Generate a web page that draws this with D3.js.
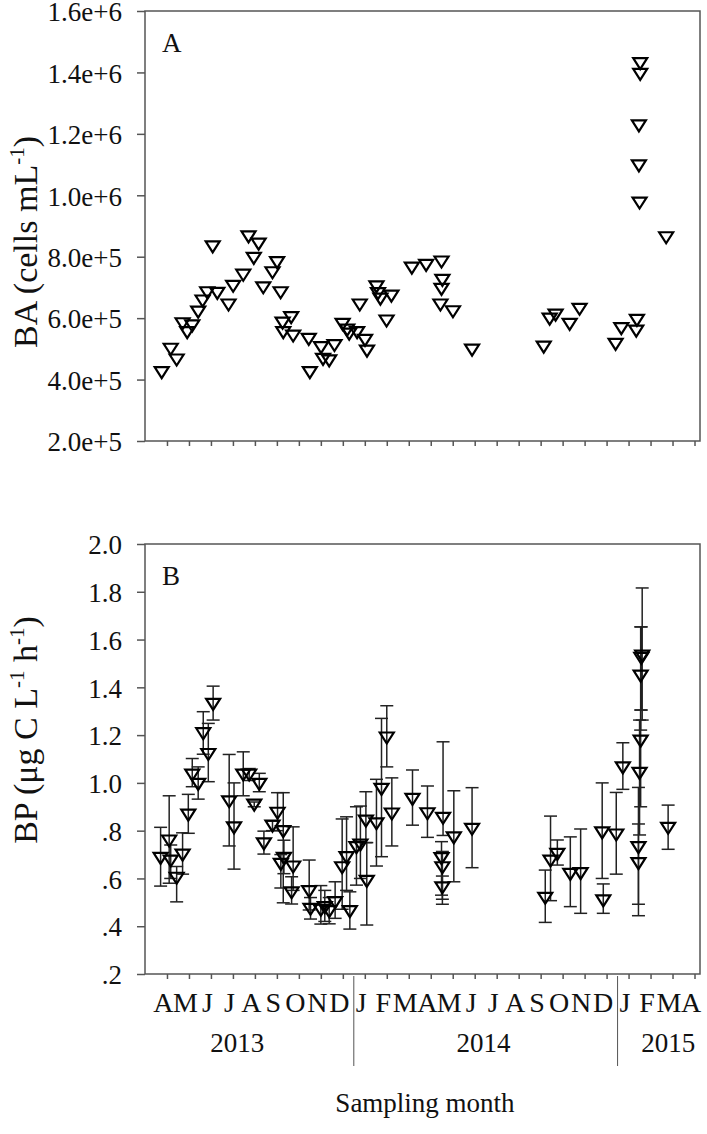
<!DOCTYPE html>
<html>
<head>
<meta charset="utf-8">
<script src="https://cdn.jsdelivr.net/npm/d3@7"></script>
<style>
    body { margin: 0; background: #fff; }
    svg text { font-family: "Liberation Serif", "Times New Roman", serif; fill: #111; }
</style>
</head>
<body>
<svg id="chart" width="707" height="1134"></svg>
<script>
// month labels under each tick, Apr 2013 .. Apr 2015
var monthLabels = ['A','M','J','J','A','S','O','N','D',
    'J','F','M','A','M','J','J','A','S','O','N','D',
    'J','F','M','A'];
var years = ['2013', '2014', '2015'];

// sampling time in months after 1 Apr 2013
var baMonth = [-0.24, 0.17, 0.44, 0.71, 0.92, 1.15, 1.42, 1.62, 1.83, 2.08,
    2.29, 2.80, 3.01, 3.47, 3.71, 3.95, 4.17, 4.38, 4.80, 5.01,
    5.17, 5.26, 5.29, 5.65, 5.74, 6.45, 6.50, 7.01, 7.10, 7.38,
    7.62, 7.99, 8.20, 8.29, 8.65, 8.77, 9.01, 9.10, 9.53, 9.60,
    9.71, 9.99, 10.21, 11.14, 11.79, 12.49, 12.53, 12.49, 12.44, 13.01,
    13.88, 17.14, 17.41, 17.68, 18.32, 18.77, 20.41, 20.67, 21.38, 21.35,
    21.50, 21.47, 21.47, 21.53, 21.53, 22.71];
// bacterial abundance, cells per mL
var baValue = [426000, 502000, 467000, 585000, 556000, 578000, 623000, 659000, 686000, 835000,
    684000, 646000, 707000, 743000, 868000, 798000, 844000, 702000, 751000, 784000,
    686000, 587000, 556000, 605000, 545000, 534000, 426000, 507000, 469000, 464000,
    514000, 583000, 564000, 551000, 556000, 646000, 531000, 496000, 705000, 683000,
    665000, 594000, 675000, 766000, 775000, 786000, 726000, 697000, 646000, 624000,
    499000, 509000, 600000, 613000, 583000, 632000, 518000, 569000, 596000, 561000,
    978000, 1099000, 1229000, 1397000, 1432000, 865000];

var bpMonth = [-0.29, 0.10, 0.17, 0.44, 0.71, 0.97, 1.15, 1.42, 1.65, 1.88,
    2.10, 2.83, 3.05, 3.47, 3.74, 3.97, 4.20, 4.41, 4.80, 5.03,
    5.29, 5.32, 5.18, 5.74, 5.67, 6.47, 6.53, 7.00, 7.18, 7.38,
    7.65, 7.97, 8.17, 8.32, 8.62, 8.80, 9.05, 9.09, 9.53, 9.76,
    10.00, 10.23, 11.17, 11.85, 12.56, 12.49, 12.53, 12.53, 13.05, 13.88,
    17.21, 17.45, 17.76, 18.35, 18.82, 19.80, 19.85, 20.44, 20.74, 21.62,
    21.58, 21.55, 21.55, 21.50, 21.45, 21.45, 22.80];
// bacterial production, ug C per L per h
var bpValue = [0.688, 0.761, 0.677, 0.605, 0.702, 0.869, 1.037, 0.998, 1.210, 1.123,
    1.333, 0.925, 0.816, 1.037, 1.037, 0.911, 0.998, 0.749, 0.823, 0.877,
    0.800, 0.688, 0.663, 0.652, 0.544, 0.549, 0.475, 0.471, 0.482, 0.465,
    0.503, 0.649, 0.691, 0.465, 0.733, 0.744, 0.844, 0.592, 0.833, 0.977,
    1.192, 0.874, 0.935, 0.875, 0.856, 0.687, 0.649, 0.565, 0.774, 0.810,
    0.521, 0.677, 0.705, 0.621, 0.624, 0.795, 0.510, 0.786, 1.067, 1.535,
    1.525, 1.451, 1.179, 1.044, 0.733, 0.666, 0.814];
var bpLow = [0.568, 0.580, 0.600, 0.502, 0.618, 0.789, 0.984, 0.932, 1.120, 1.005,
    1.263, 0.736, 0.639, 0.946, 1.010, 0.900, 0.963, 0.702, 0.800, 0.800,
    0.498, 0.620, 0.560, 0.550, 0.493, 0.468, 0.430, 0.409, 0.420, 0.410,
    0.433, 0.471, 0.550, 0.388, 0.572, 0.600, 0.750, 0.405, 0.652, 0.691,
    1.067, 0.736, 0.823, 0.772, 0.780, 0.530, 0.513, 0.492, 0.586, 0.645,
    0.416, 0.507, 0.656, 0.482, 0.454, 0.600, 0.454, 0.618, 0.973, 1.263,
    1.305, 1.221, 0.900, 0.782, 0.492, 0.444, 0.722];
var bpHigh = [0.814, 0.946, 0.740, 0.650, 0.791, 0.952, 1.102, 1.067, 1.298, 1.249,
    1.405, 1.119, 1.000, 1.130, 1.060, 0.920, 1.040, 0.798, 0.840, 0.959,
    0.959, 0.760, 0.700, 0.816, 0.607, 0.677, 0.520, 0.570, 0.550, 0.520,
    0.586, 0.849, 0.858, 0.544, 0.900, 0.903, 0.963, 0.750, 1.015, 1.270,
    1.323, 1.021, 1.054, 0.987, 1.172, 0.754, 0.713, 0.610, 0.967, 0.980,
    0.635, 0.861, 0.761, 0.774, 0.807, 1.000, 0.577, 0.960, 1.168, 1.816,
    1.653, 1.653, 1.305, 1.263, 0.981, 0.828, 0.907];

var baTicks = [2e5, 4e5, 6e5, 8e5, 1e6, 1.2e6, 1.4e6, 1.6e6];
var bpTicks = [0.2, 0.4, 0.6, 0.8, 1.0, 1.2, 1.4, 1.6, 1.8, 2.0];

d3.select(window).on('load', init);

function init() {
    var svg = d3.select('#chart');

    var left = 145, right = 700;
    var x = d3.scaleLinear()
        .domain([-1, 24.25])
        .range([left, right]);

    var yA = d3.scaleLinear().domain([2e5, 1.6e6]).range([441, 11]);
    var yB = d3.scaleLinear().domain([0.2, 2.0]).range([974, 544]);

    draw_panel(svg, x, yA, baTicks, d3.format('.1e'), 'A', false);
    draw_panel(svg, x, yB, bpTicks, function(d) {
        return d3.format('.1f')(d).replace(/^0/, '');
    }, 'B', true);

    // panel A points
    var ptsA = baMonth.map(function(m, i) { return {m: m, v: baValue[i]}; });
    svg.append('g')
        .selectAll('path')
        .data(ptsA)
        .enter()
        .append('path')
        .attr('d', triangle)
        .attr('transform', function(d) {
            return 'translate(' + x(d.m) + ',' + yA(d.v) + ')';
        })
        .attr('fill', 'none')
        .attr('stroke', '#000')
        .attr('stroke-width', 2.2);

    // panel B error bars + points
    var ptsB = bpMonth.map(function(m, i) {
        return {m: m, v: bpValue[i], lo: bpLow[i], hi: bpHigh[i]};
    });
    var bars = svg.append('g')
        .attr('stroke', '#222')
        .attr('stroke-width', 1.5)
        .selectAll('g')
        .data(ptsB)
        .enter()
        .append('g');
    bars.append('line')
        .attr('x1', function(d) { return x(d.m); })
        .attr('x2', function(d) { return x(d.m); })
        .attr('y1', function(d) { return yB(d.lo); })
        .attr('y2', function(d) { return yB(d.hi); });
    bars.append('line')
        .attr('x1', function(d) { return x(d.m) - 6.5; })
        .attr('x2', function(d) { return x(d.m) + 6.5; })
        .attr('y1', function(d) { return yB(d.hi); })
        .attr('y2', function(d) { return yB(d.hi); });
    bars.append('line')
        .attr('x1', function(d) { return x(d.m) - 6.5; })
        .attr('x2', function(d) { return x(d.m) + 6.5; })
        .attr('y1', function(d) { return yB(d.lo); })
        .attr('y2', function(d) { return yB(d.lo); });

    svg.append('g')
        .selectAll('path')
        .data(ptsB)
        .enter()
        .append('path')
        .attr('d', triangle)
        .attr('transform', function(d) {
            return 'translate(' + x(d.m) + ',' + yB(d.v) + ')';
        })
        .attr('fill', 'none')
        .attr('stroke', '#000')
        .attr('stroke-width', 2.2);

    // year labels and separators
    var sep = [8.5, 20.5];
    svg.append('g')
        .selectAll('line')
        .data(sep)
        .enter()
        .append('line')
        .attr('x1', function(d) { return x(d); })
        .attr('x2', function(d) { return x(d); })
        .attr('y1', 976)
        .attr('y2', 1066)
        .attr('stroke', '#555')
        .attr('stroke-width', 1);

    var yearPos = [3.2, 14.4, 22.8];
    svg.append('g')
        .selectAll('text')
        .data(years)
        .enter()
        .append('text')
        .attr('x', function(d, i) { return x(yearPos[i]); })
        .attr('y', 1052)
        .attr('text-anchor', 'middle')
        .style('font-size', '27px')
        .text(function(d) { return d; });

    svg.append('text')
        .attr('x', 425)
        .attr('y', 1112)
        .attr('text-anchor', 'middle')
        .style('font-size', '27px')
        .text('Sampling month');

    // y titles
    var tA = svg.append('text')
        .attr('transform', 'translate(37,242) rotate(-90)')
        .attr('text-anchor', 'middle')
        .style('font-size', '34px');
    tA.append('tspan').text('BA (cells mL');
    tA.append('tspan').attr('dy', -13).style('font-size', '21px').text('-1');
    tA.append('tspan').attr('dy', 13).text(')');

    var tB = svg.append('text')
        .attr('transform', 'translate(37,730) rotate(-90)')
        .attr('text-anchor', 'middle')
        .style('font-size', '34px');
    tB.append('tspan').text('BP (\u03bcg C L');
    tB.append('tspan').attr('dy', -13).style('font-size', '21px').text('-1');
    tB.append('tspan').attr('dy', 13).text(' h');
    tB.append('tspan').attr('dy', -13).style('font-size', '21px').text('-1');
    tB.append('tspan').attr('dy', 13).text(')');
}

function triangle() {
    return 'M-7,-4.5L7,-4.5L0,6.5Z';
}

function draw_panel(svg, x, y, ticks, fmt, letter, withMonths) {
    var top = y.range()[1], bottom = y.range()[0];
    var left = x.range()[0], right = x.range()[1];

    svg.append('rect')
        .attr('x', left)
        .attr('y', top)
        .attr('width', right - left)
        .attr('height', bottom - top)
        .attr('fill', 'none')
        .attr('stroke', '#555')
        .attr('stroke-width', 1.5);

    var yAxis = svg.append('g')
        .attr('transform', 'translate(' + left + ',0)')
        .call(d3.axisLeft(y).tickValues(ticks).tickFormat(fmt).tickSize(8).tickPadding(15));
    yAxis.select('.domain').remove();
    yAxis.selectAll('line').attr('stroke', '#555').attr('stroke-width', 1.5);
    yAxis.selectAll('text')
        .attr('dy', '0.36em')
        .style('font-size', '27px')
        .style('font-family', '"Liberation Serif", serif')
        .attr('fill', '#111');

    var xAxis = svg.append('g')
        .attr('transform', 'translate(0,' + bottom + ')')
        .call(d3.axisBottom(x).tickValues(d3.range(monthLabels.length))
            .tickFormat(function(d) { return withMonths ? monthLabels[d] : ''; })
            .tickSize(5).tickPadding(13));
    xAxis.select('.domain').remove();
    xAxis.selectAll('line').attr('stroke', '#555').attr('stroke-width', 1.5);
    xAxis.selectAll('text')
        .attr('dx', -4)
        .style('font-size', '28px')
        .style('font-family', '"Liberation Serif", serif')
        .attr('fill', '#111');

    svg.append('text')
        .attr('x', left + 17)
        .attr('y', top + 41)
        .style('font-size', '27px')
        .text(letter);
}
</script>
</body>
</html>
